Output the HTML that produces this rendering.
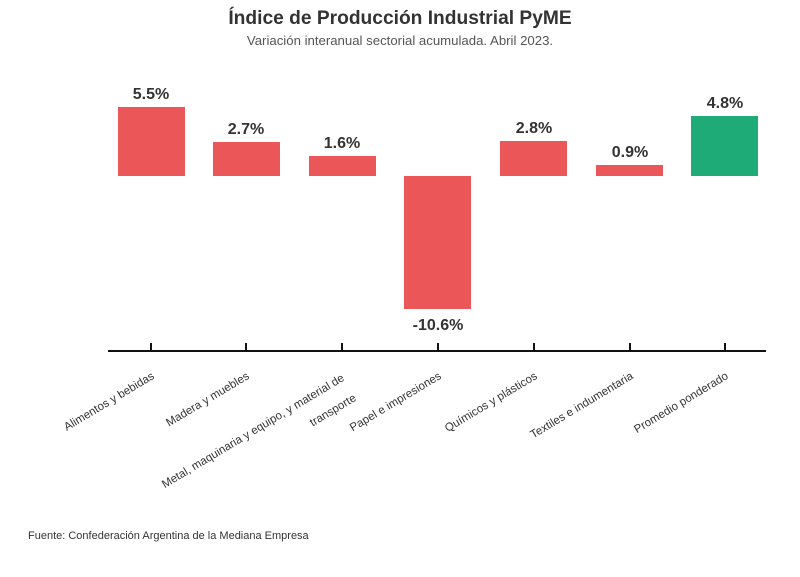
<!DOCTYPE html>
<html><head><meta charset="utf-8"><style>
body{margin:0;background:#fff}
svg{display:block;font-family:"Liberation Sans",sans-serif}
</style></head><body>
<svg width="800" height="577" viewBox="0 0 800 577">
<text x="400" y="24" text-anchor="middle" font-size="19.2" font-weight="bold" fill="#333">Índice de Producción Industrial PyME</text>
<text x="400" y="45" text-anchor="middle" font-size="13.2" fill="#555">Variación interanual sectorial acumulada. Abril 2023.</text>
<g fill="#eb5659">
<rect x="118" y="107" width="67" height="69"/>
<rect x="213" y="142" width="67" height="34"/>
<rect x="309" y="156" width="67" height="20"/>
<rect x="404" y="176" width="67" height="133"/>
<rect x="500" y="141" width="67" height="35"/>
<rect x="596" y="165" width="67" height="11"/>
</g>
<rect x="691" y="116" width="67" height="60" fill="#1fab78"/>
<g font-size="16" font-weight="bold" fill="#333" text-anchor="middle">
<text x="151" y="99">5.5%</text>
<text x="246" y="134">2.7%</text>
<text x="342" y="148">1.6%</text>
<text x="438" y="330">-10.6%</text>
<text x="534" y="133">2.8%</text>
<text x="630" y="157">0.9%</text>
<text x="725" y="108">4.8%</text>
</g>
<g stroke="#111" stroke-width="2">
<line x1="108" y1="351" x2="766" y2="351"/>
<line x1="151" y1="343" x2="151" y2="351"/>
<line x1="246" y1="343" x2="246" y2="351"/>
<line x1="342" y1="343" x2="342" y2="351"/>
<line x1="438" y1="343" x2="438" y2="351"/>
<line x1="534" y1="343" x2="534" y2="351"/>
<line x1="630" y1="343" x2="630" y2="351"/>
<line x1="725" y1="343" x2="725" y2="351"/>
</g>
<g font-size="11.5" fill="#333" text-anchor="end">
<text transform="translate(155,378) rotate(-31)">Alimentos y bebidas</text>
<text transform="translate(250,378) rotate(-31)">Madera y muebles</text>
<text transform="translate(345,380) rotate(-31)">Metal, maquinaria y equipo, y material de</text>
<text transform="translate(357,400) rotate(-31)">transporte</text>
<text transform="translate(442,378) rotate(-31)">Papel e impresiones</text>
<text transform="translate(538,378) rotate(-31)">Químicos y plásticos</text>
<text transform="translate(634,378) rotate(-31)">Textiles e indumentaria</text>
<text transform="translate(729,378) rotate(-31)">Promedio ponderado</text>
</g>
<text x="28" y="539" font-size="11" fill="#333">Fuente: Confederación Argentina de la Mediana Empresa</text>
</svg>
</body></html>
